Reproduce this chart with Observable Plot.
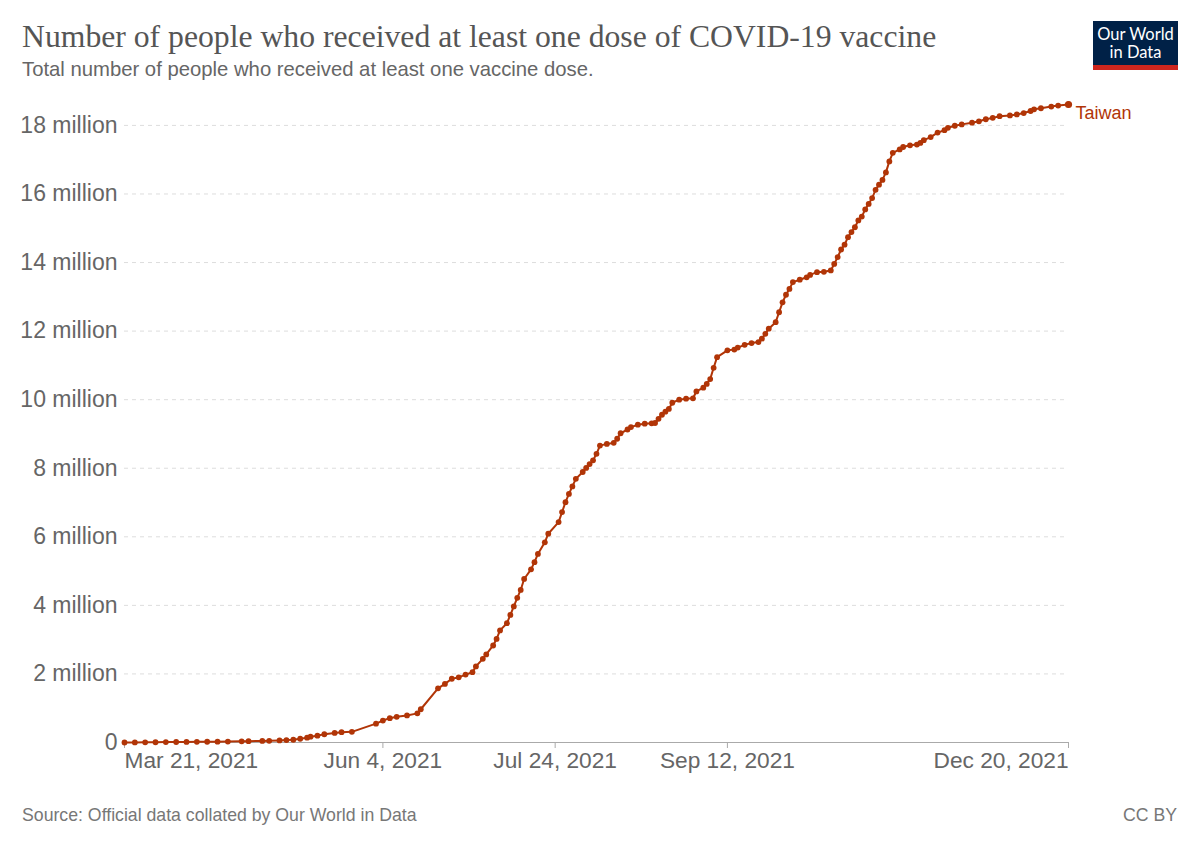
<!DOCTYPE html>
<html>
<head>
<meta charset="utf-8">
<script src="https://cdn.jsdelivr.net/npm/d3@7"></script>
<script src="https://cdn.jsdelivr.net/npm/@observablehq/plot@0.6"></script>
<style>
  html, body { margin: 0; padding: 0; background: #fff; }
  #wrap { position: relative; width: 1200px; height: 848px; overflow: hidden; font-family: "Liberation Sans", Arial, sans-serif; }
  #title { position: absolute; left: 22px; top: 19px; font-family: "Liberation Serif", "Times New Roman", serif; font-size: 31.7px; color: #555; white-space: nowrap; }
  #subtitle { position: absolute; left: 22px; top: 58px; font-size: 20.3px; color: #666; white-space: nowrap; }
  #chart { position: absolute; left: 0; top: 90px; }
  #source { position: absolute; left: 22px; top: 805px; font-size: 17.7px; color: #777; white-space: nowrap; }
  #license { position: absolute; right: 23px; top: 805px; font-size: 17.7px; color: #777; }
  #logo { position: absolute; left: 1093px; top: 21px; width: 85px; height: 49px; background: #002147; box-sizing: border-box; border-bottom: 5px solid #ce261e; color: #fff; font-family: Lato, "Noto Sans", sans-serif; font-size: 16.5px; line-height: 18px; text-align: center; padding-top: 4px; }
</style>
</head>
<body>
<div id="wrap">
  <div id="title">Number of people who received at least one dose of COVID-19 vaccine</div>
  <div id="subtitle">Total number of people who received at least one vaccine dose.</div>
  <div id="logo">Our World<br>in Data</div>
  <div id="chart"></div>
  <div id="source">Source: Official data collated by Our World in Data</div>
  <div id="license">CC BY</div>
</div>
<script>
const seriesName = "Taiwan";
const dates = [
  "2021-03-21","2021-03-24","2021-03-27","2021-03-30","2021-04-02","2021-04-05","2021-04-08","2021-04-11","2021-04-14","2021-04-17",
  "2021-04-20","2021-04-24","2021-04-26","2021-04-30","2021-05-02","2021-05-05","2021-05-07","2021-05-09","2021-05-11","2021-05-13",
  "2021-05-14","2021-05-16","2021-05-18","2021-05-21","2021-05-23","2021-05-26","2021-06-02","2021-06-04","2021-06-06","2021-06-08",
  "2021-06-11","2021-06-14","2021-06-15","2021-06-20","2021-06-22","2021-06-24","2021-06-26","2021-06-28","2021-06-30","2021-07-01",
  "2021-07-03","2021-07-04","2021-07-06","2021-07-07","2021-07-08","2021-07-10","2021-07-11","2021-07-12","2021-07-13","2021-07-14",
  "2021-07-15","2021-07-17","2021-07-18","2021-07-19","2021-07-21","2021-07-22","2021-07-25","2021-07-26","2021-07-27","2021-07-28",
  "2021-07-29","2021-07-30","2021-08-01","2021-08-02","2021-08-03","2021-08-04","2021-08-05","2021-08-06","2021-08-08","2021-08-10",
  "2021-08-11","2021-08-12","2021-08-14","2021-08-15","2021-08-17","2021-08-19","2021-08-21","2021-08-22","2021-08-23","2021-08-24",
  "2021-08-25","2021-08-26","2021-08-27","2021-08-29","2021-08-31","2021-09-02","2021-09-03","2021-09-05","2021-09-06","2021-09-07",
  "2021-09-08","2021-09-09","2021-09-12","2021-09-14","2021-09-15","2021-09-17","2021-09-19","2021-09-21","2021-09-22","2021-09-23",
  "2021-09-24","2021-09-26","2021-09-27","2021-09-28","2021-09-29","2021-09-30","2021-10-01","2021-10-03","2021-10-05","2021-10-06",
  "2021-10-08","2021-10-10","2021-10-12","2021-10-13","2021-10-14","2021-10-15","2021-10-16","2021-10-17","2021-10-18","2021-10-19",
  "2021-10-20","2021-10-21","2021-10-22","2021-10-23","2021-10-24","2021-10-25","2021-10-26","2021-10-27","2021-10-28","2021-10-29",
  "2021-10-30","2021-11-01","2021-11-02","2021-11-04","2021-11-06","2021-11-07","2021-11-08","2021-11-10","2021-11-12","2021-11-14",
  "2021-11-15","2021-11-17","2021-11-19","2021-11-22","2021-11-24","2021-11-26","2021-11-28","2021-11-30","2021-12-03","2021-12-05",
  "2021-12-07","2021-12-09","2021-12-10","2021-12-12","2021-12-15","2021-12-17","2021-12-20"
];
// millions of people
const values = [
  0.000,0.002,0.005,0.008,0.011,0.014,0.017,0.020,0.022,0.024,
  0.027,0.033,0.038,0.045,0.050,0.060,0.070,0.080,0.110,0.140,
  0.170,0.200,0.240,0.280,0.300,0.310,0.550,0.640,0.710,0.750,
  0.790,0.850,0.970,1.580,1.710,1.860,1.900,1.980,2.050,2.220,
  2.440,2.570,2.830,3.020,3.270,3.480,3.720,3.970,4.220,4.450,
  4.770,5.050,5.260,5.500,5.840,6.090,6.430,6.720,7.010,7.250,
  7.470,7.690,7.890,8.010,8.120,8.230,8.420,8.660,8.710,8.740,
  8.860,9.020,9.130,9.200,9.270,9.300,9.310,9.320,9.440,9.560,
  9.650,9.730,9.910,10.000,10.030,10.040,10.240,10.350,10.460,10.600,
  10.930,11.240,11.440,11.460,11.520,11.600,11.650,11.680,11.780,11.920,
  12.070,12.260,12.550,12.840,13.060,13.230,13.430,13.500,13.570,13.640,
  13.720,13.730,13.770,13.960,14.160,14.380,14.520,14.740,14.890,15.030,
  15.230,15.340,15.550,15.710,15.880,16.120,16.270,16.410,16.630,16.950,
  17.200,17.300,17.370,17.420,17.440,17.490,17.570,17.660,17.790,17.860,
  17.930,17.990,18.030,18.080,18.120,18.180,18.220,18.270,18.290,18.320,
  18.360,18.420,18.470,18.500,18.550,18.580,18.610
];
const xTickDates = ["2021-03-21","2021-06-04","2021-07-24","2021-09-12","2021-12-20"];
const xTickLabels = ["Mar 21, 2021","Jun 4, 2021","Jul 24, 2021","Sep 12, 2021","Dec 20, 2021"];
const yTicks = [0,2,4,6,8,10,12,14,16,18];
const yTickLabels = ["0","2 million","4 million","6 million","8 million","10 million","12 million","14 million","16 million","18 million"];

const color = "#b13507";
const data = dates.map((d, i) => ({date: new Date(d + "T00:00:00Z"), value: values[i]}));
const xTicks = xTickDates.map((d, i) => ({date: new Date(d + "T00:00:00Z"), label: xTickLabels[i], i}));
const last = data[data.length - 1];
const yLabelOf = v => yTickLabels[yTicks.indexOf(v)];

const plot = Plot.plot({
  width: 1200,
  height: 700,
  marginTop: 14,
  marginBottom: 48,
  marginLeft: 124,
  marginRight: 132,
  style: {fontFamily: "'Liberation Sans', Arial, sans-serif", color: "#666", background: "transparent"},
  x: {type: "utc", domain: [xTicks[0].date, xTicks[xTicks.length - 1].date]},
  y: {domain: [0, last.value]},
  marks: [
    Plot.gridY(yTicks.filter(v => v > 0), {stroke: "#dddddd", strokeOpacity: 1, strokeDasharray: "4,4", strokeWidth: 1}),
    Plot.axisY({ticks: yTicks, tickSize: 0, tickPadding: 7, tickFormat: yLabelOf, fontSize: 23, fill: "#666", label: null}),
    Plot.ruleY([0], {stroke: "#aaa", strokeWidth: 1}),
    Plot.axisX({ticks: xTicks.map(t => t.date), tickSize: 6, tickFormat: () => "", stroke: "#aaa", label: null}),
    Plot.text(xTicks.filter(t => t.i === 0), {x: "date", text: "label", frameAnchor: "bottom", dy: 25, textAnchor: "start", fontSize: 22.7, fill: "#666"}),
    Plot.text(xTicks.filter(t => t.i > 0 && t.i < xTicks.length - 1), {x: "date", text: "label", frameAnchor: "bottom", dy: 25, textAnchor: "middle", fontSize: 22.7, fill: "#666"}),
    Plot.text(xTicks.filter(t => t.i === xTicks.length - 1), {x: "date", text: "label", frameAnchor: "bottom", dy: 25, textAnchor: "end", fontSize: 22.7, fill: "#666"}),
    Plot.line(data, {x: "date", y: "value", stroke: color, strokeWidth: 2}),
    Plot.dot(data, {x: "date", y: "value", r: 2.9, fill: color, stroke: "none"}),
    Plot.dot([last], {x: "date", y: "value", r: 3.6, fill: color, stroke: "none"}),
    Plot.text([last], {x: "date", y: "value", text: () => seriesName, dx: 7, dy: 9, textAnchor: "start", fontSize: 18, fill: color})
  ]
});
document.getElementById("chart").appendChild(plot);
</script>
</body>
</html>
